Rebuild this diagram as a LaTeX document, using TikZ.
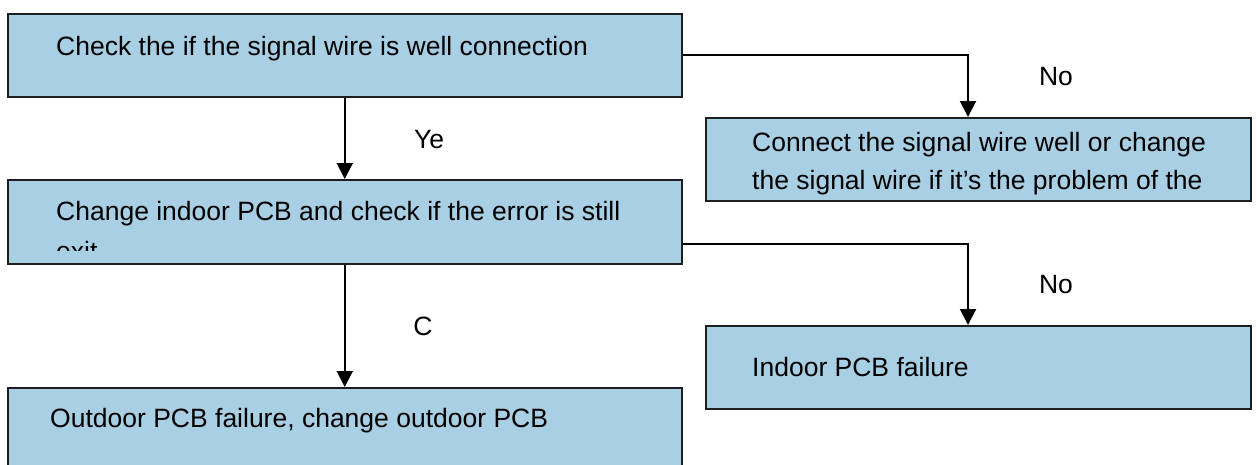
\documentclass[tikz,border=0pt]{standalone}
\usepackage{fontspec}
\setmainfont{Liberation Sans}
\usetikzlibrary{arrows.meta,calc}
\definecolor{boxblue}{RGB}{168,207,227}
\definecolor{edge}{RGB}{30,30,30}
\tikzset{
  box/.style={draw=edge, line width=1.5pt, fill=boxblue, inner sep=0pt, anchor=north west},
  txt/.style={inner sep=0pt, anchor=base west, font=\fontsize{26.5}{38}\selectfont},
  lbl/.style={inner sep=0pt, anchor=base, font=\fontsize{26.5}{38}\selectfont},
  conn/.style={line width=2pt, black, -{Triangle[width=16pt,length=16pt]}}
}
\begin{document}
\begin{tikzpicture}[x=1pt,y=-1pt]
\clip (0,0) rectangle (1257,464);
\fill[white] (0,0) rectangle (1257,464);
% boxes
\node[box, minimum width=674pt, minimum height=83pt] (b1) at (7,13) {};
\node[box, minimum width=545pt, minimum height=83pt] (b2) at (705,117) {};
\node[box, minimum width=674pt, minimum height=84pt] (b3) at (7,179) {};
\node[box, minimum width=545pt, minimum height=83pt] (b4) at (705,325) {};
\node[box, minimum width=674pt, minimum height=110pt] (b5) at (7,387) {};
% texts
\node[txt] (t1) at (56,55) {Check the if the signal wire is well connection};
\node[txt] (t2a) at (752,151) {Connect the signal wire well or change};
\node[txt] (t2b) at (752,189) {the signal wire if it’s the problem of the};
\node[txt] (t3a) at (56,220) {Change indoor PCB and check if the error is still};
\begin{scope}
\clip (8,180) rectangle (680,250);
\node[txt] (t3b) at (56,260) {exit};
\end{scope}
\node[txt] (t4) at (752,376) {Indoor PCB failure};
\node[txt] (t5) at (50,427) {Outdoor PCB failure, change outdoor PCB};
% labels
\node[lbl] (no1) at (1056,85) {No};
\node[lbl] (ye) at (429,148) {Ye};
\node[lbl] (no2) at (1056,293) {No};
\node[lbl] (c) at (423,335) {C};
% connectors
\draw[conn] (b1.south) -- (b3.north);
\draw[conn] (b3.south) -- (b5.north);
\draw[conn] (b1.east) -| ($(b2.north west)+(263,0)$);
\draw[conn] ($(b3.south east)+(0,-21)$) -| ($(b4.north west)+(263,0)$);
\end{tikzpicture}
\end{document}
